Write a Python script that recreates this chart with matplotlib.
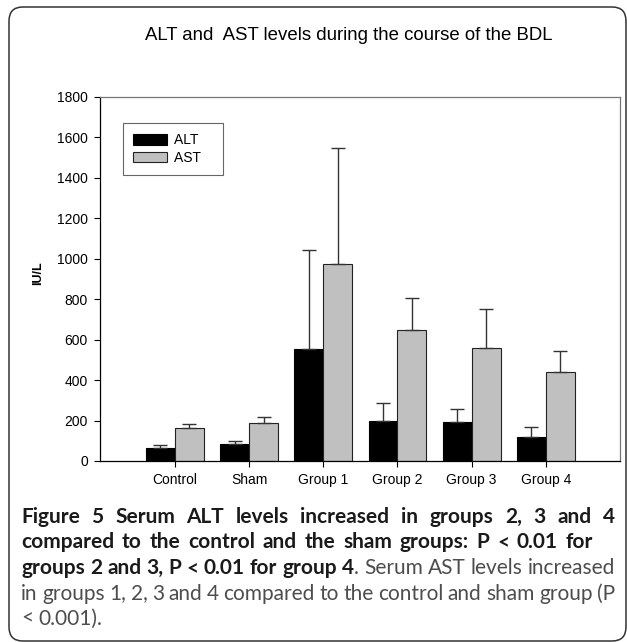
import matplotlib
matplotlib.use("Agg")
import matplotlib.pyplot as plt
import numpy as np
from matplotlib.patches import FancyBboxPatch

plt.rcParams['font.family'] = ['Liberation Sans', 'DejaVu Sans']

# data
groups = ["Control", "Sham", "Group 1", "Group 2", "Group 3", "Group 4"]
alt_mean = [65, 82, 554, 196, 193, 120]
alt_err = [15, 17, 491, 89, 64, 50]
ast_mean = [165, 188, 975, 648, 558, 442]
ast_err = [17, 30, 573, 160, 194, 101]
yticks = [0, 200, 400, 600, 800, 1000, 1200, 1400, 1600, 1800]

W, H = 627, 642
fig = plt.figure(figsize=(W / 100, H / 100), dpi=100)


def fx(px):
    return px / W


def fy(py):
    # py measured from the top of the picture
    return (H - py) / H


ax = fig.add_axes([fx(100), fy(461), fx(620) - fx(100), fy(97) - fy(461)])

x = np.arange(len(groups))
w = 0.39
ax.bar(x - w / 2, alt_mean, w, color="black", edgecolor="black", linewidth=0.8,
       label="ALT", zorder=2)
ax.bar(x + w / 2, ast_mean, w, color="#c0c0c0", edgecolor="#222222", linewidth=0.8,
       label="AST", zorder=2)
ax.errorbar(x - w / 2, alt_mean, yerr=[np.zeros(len(groups)), alt_err], fmt="none",
            ecolor="#333333", elinewidth=1.0, capsize=5, capthick=1.0, zorder=3)
ax.errorbar(x + w / 2, ast_mean, yerr=[np.zeros(len(groups)), ast_err], fmt="none",
            ecolor="#333333", elinewidth=1.0, capsize=5, capthick=1.0, zorder=3)

ax.set_xlim(-1.01, 6.0)
ax.set_ylim(0, 1800)
ax.set_yticks(yticks)
ax.set_xticks(x)
ax.set_xticklabels(groups)
ax.tick_params(axis="both", labelsize=10, direction="out", length=4.3, width=0.8,
               color="black")
ax.tick_params(axis="y", pad=4.5)
ax.tick_params(axis="x", pad=4)
for s in ["left", "bottom"]:
    ax.spines[s].set_color("black")
    ax.spines[s].set_linewidth(0.9)
for s in ["top", "right"]:
    ax.spines[s].set_color("#777777")
    ax.spines[s].set_linewidth(0.9)

leg = ax.legend(loc="upper left", bbox_to_anchor=(0.044, 0.929), borderaxespad=0,
                fontsize=10, fancybox=False, edgecolor="#666666", framealpha=1,
                handlelength=2.45, handleheight=0.75, handletextpad=0.5,
                labelspacing=0.25, borderpad=0.75)
leg.get_frame().set_linewidth(0.8)
leg.texts[0].set_text("ALT   ")
leg.texts[1].set_text("AST   ")

fig.text(fx(349), fy(35), "ALT and  AST levels during the course of the BDL",
         ha="center", va="center", fontsize=13.4)
fig.text(fx(38), fy(273), "IU/L", rotation=90, ha="center", va="center",
         fontsize=9, fontweight="bold")

# outer rounded frame
frame = FancyBboxPatch((fx(9), fy(641)), fx(626) - fx(9), fy(7) - fy(641),
                       boxstyle="round,pad=0,rounding_size=0.022",
                       transform=fig.transFigure, fill=False,
                       edgecolor="#333333", linewidth=1.1)
fig.patches.append(frame)

# caption, justified word by word
B = "bold"
N = "normal"
cap_lines = [
    [[("Figure", B)], [("5", B)], [("Serum", B)], [("ALT", B)], [("levels", B)],
     [("increased", B)], [("in", B)], [("groups", B)], [("2,", B)], [("3", B)],
     [("and", B)], [("4", B)]],
    [[("compared", B)], [("to", B)], [("the", B)], [("control", B)], [("and", B)],
     [("the", B)], [("sham", B)], [("groups:", B)], [("P", B)], [("<", B)],
     [("0.01", B)], [("for", B)]],
    [[("groups", B)], [("2", B)], [("and", B)], [("3,", B)], [("P", B)], [("<", B)],
     [("0.01", B)], [("for", B)], [("group", B)], [("4", B), (".", N)],
     [("Serum", N)], [("AST", N)], [("levels", N)], [("increased", N)]],
    [[("in", N)], [("groups", N)], [("1,", N)], [("2,", N)], [("3", N)], [("and", N)],
     [("4", N)], [("compared", N)], [("to", N)], [("the", N)], [("control", N)],
     [("and", N)], [("sham", N)], [("group", N)], [("(P", N)]],
    [[("<", N)], [("0.001).", N)]],
]
line_right = [615, 593, 615, 615, None]
baselines = [523, 548.5, 574, 599.5, 625]
cap_left = 21
cap_size = 15
colors = {B: "#1a1a1a", N: "#4d4d4d"}

renderer = fig.canvas.get_renderer()
for words, right, base in zip(cap_lines, line_right, baselines):
    made = []
    widths = []
    for word in words:
        pieces = []
        wsum = 0
        for txt, wt in word:
            t = fig.text(0, fy(base), txt, fontsize=cap_size, fontweight=wt,
                         family=["Lato", "DejaVu Sans"], color=colors[wt],
                         va="baseline", ha="left")
            pw = t.get_window_extent(renderer).width
            pieces.append((t, pw))
            wsum += pw
        made.append(pieces)
        widths.append(wsum)
    if right is None:
        sp = fig.text(0, 0, "a b", fontsize=cap_size, family=["Lato"])
        sp2 = fig.text(0, 0, "ab", fontsize=cap_size, family=["Lato"])
        gap = sp.get_window_extent(renderer).width - sp2.get_window_extent(renderer).width
        sp.remove()
        sp2.remove()
    else:
        gap = (right - cap_left - sum(widths)) / (len(words) - 1)
    xpos = cap_left
    for pieces, wsum in zip(made, widths):
        xx = xpos
        for t, pw in pieces:
            t.set_x(fx(xx))
            xx += pw
        xpos += wsum + gap

fig.savefig("out.png", dpi=100)
